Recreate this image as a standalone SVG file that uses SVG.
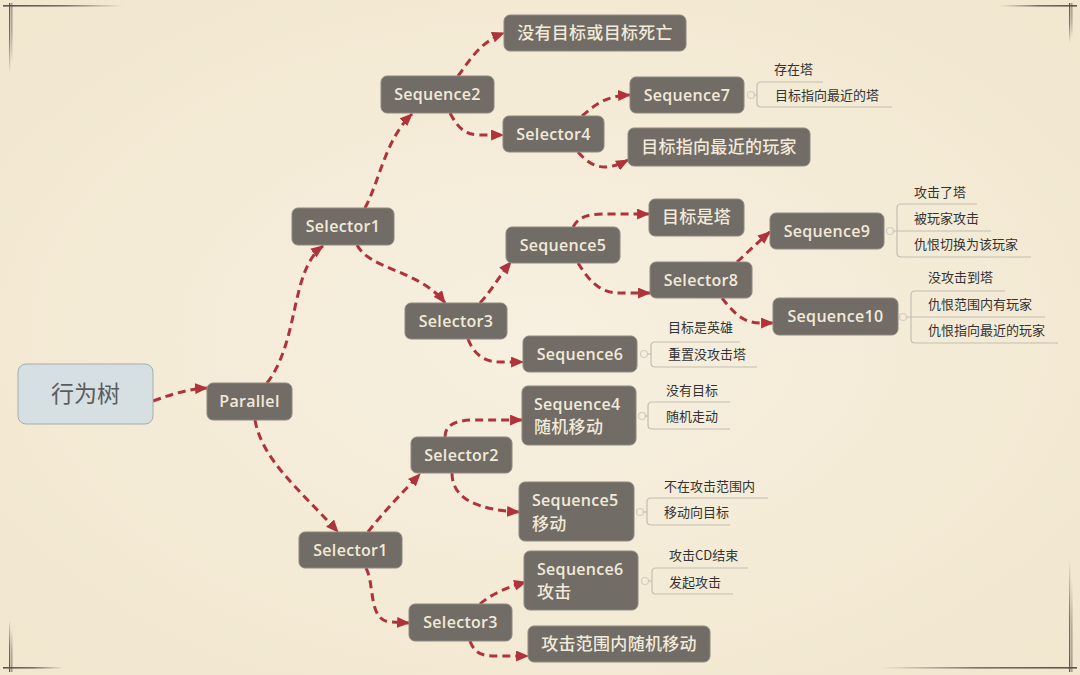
<svg xmlns="http://www.w3.org/2000/svg" width="1080" height="675" viewBox="0 0 1080 675">
  <defs>
    <radialGradient id="bg" cx="50%" cy="50%" r="75%">
      <stop offset="0" stop-color="#f7f0e0"/>
      <stop offset="1" stop-color="#f1e6cd"/>
    </radialGradient>
    <linearGradient id="fadeR" x1="0" y1="0" x2="1" y2="0">
      <stop offset="0" stop-color="#5a5450" stop-opacity="1"/>
      <stop offset="0.5" stop-color="#5a5450" stop-opacity="0.8"/>
      <stop offset="1" stop-color="#5a5450" stop-opacity="0"/>
    </linearGradient>
    <linearGradient id="fadeL" x1="1" y1="0" x2="0" y2="0">
      <stop offset="0" stop-color="#5a5450" stop-opacity="1"/>
      <stop offset="0.5" stop-color="#5a5450" stop-opacity="0.8"/>
      <stop offset="1" stop-color="#5a5450" stop-opacity="0"/>
    </linearGradient>
    <linearGradient id="fadeD" x1="0" y1="0" x2="0" y2="1">
      <stop offset="0" stop-color="#5a5450" stop-opacity="1"/>
      <stop offset="0.5" stop-color="#5a5450" stop-opacity="0.8"/>
      <stop offset="1" stop-color="#5a5450" stop-opacity="0"/>
    </linearGradient>
    <linearGradient id="fadeU" x1="0" y1="1" x2="0" y2="0">
      <stop offset="0" stop-color="#5a5450" stop-opacity="1"/>
      <stop offset="0.5" stop-color="#5a5450" stop-opacity="0.8"/>
      <stop offset="1" stop-color="#5a5450" stop-opacity="0"/>
    </linearGradient>
    <marker id="ah" viewBox="0 0 12 10" refX="11" refY="5" markerWidth="13" markerHeight="11" markerUnits="userSpaceOnUse" orient="auto">
      <path d="M0,0 L12,5 L0,10 Z" fill="#b0333b"/>
    </marker>
    <style>
      .n rect { fill: #716c66; stroke: #8e887f; stroke-width: 1; }
      .n text { fill: #f1ead9; font-family: "Open Sans", "Noto Sans CJK SC", sans-serif; font-size: 16px; font-weight: 600; text-anchor: middle; letter-spacing: 0.3px; }
      .n text.l { text-anchor: start; }
      .n text.cjk { font-size: 17px; font-weight: 500; }
      .c path { fill: none; stroke: #b0333b; stroke-width: 3; stroke-dasharray: 8 5; marker-end: url(#ah); }
      .a path, .a line { fill: none; stroke: #c4bdb1; stroke-width: 1.2; }
      .a circle { fill: none; stroke: #d2cdc4; stroke-width: 1.2; }
      .a text { fill: #333; font-family: "Noto Sans CJK SC", "Noto Sans", sans-serif; font-size: 13px; }
    </style>
  </defs>

  <rect width="1080" height="675" fill="url(#bg)"/>

  <!-- frame corners -->
  <g id="frame">
    <rect x="3" y="5" width="120" height="1.6" fill="url(#fadeR)"/>
    <rect x="9" y="3" width="1.3" height="70" fill="url(#fadeD)"/>
    <rect x="11.5" y="3" width="0.8" height="60" fill="url(#fadeD)"/>
    <rect x="1000" y="5" width="77" height="1.6" fill="url(#fadeL)"/>
    <rect x="1069" y="3" width="1.3" height="40" fill="url(#fadeD)"/>
    <rect x="1071.5" y="3" width="0.8" height="35" fill="url(#fadeD)"/>
    <rect x="3" y="667" width="60" height="1.6" fill="url(#fadeR)"/>
    <rect x="9" y="620" width="1.3" height="52" fill="url(#fadeU)"/>
    <rect x="11.5" y="630" width="0.8" height="42" fill="url(#fadeU)"/>
    <rect x="880" y="667" width="197" height="1.6" fill="url(#fadeL)"/>
    <rect x="1069" y="560" width="1.3" height="112" fill="url(#fadeU)"/>
    <rect x="1071.5" y="580" width="0.8" height="92" fill="url(#fadeU)"/>
  </g>

  <!-- connectors -->
  <g id="connectors" class="c">
    <path d="M153,401 C175,393 190,389 207,388"/>
    <path d="M267,383 C300,340 290,270 323,246"/>
    <path d="M365,208 C380,180 385,140 412,114"/>
    <path d="M458,76 C470,60 480,42 504,33"/>
    <path d="M450,113 C458,128 465,135 480,135 L503,135"/>
    <path d="M582,116 C595,105 605,96 630,95"/>
    <path d="M578,152 C592,168 605,172 628,160"/>
    <path d="M357,245 C370,270 420,270 445,303"/>
    <path d="M480,303 C492,290 500,275 511,262"/>
    <path d="M573,227 C580,215 590,214 610,214 L649,214"/>
    <path d="M578,263 C590,282 600,293 620,293 L650,293"/>
    <path d="M737,262 C748,252 758,242 770,232"/>
    <path d="M722,298 C735,315 745,323 760,323 L773,323"/>
    <path d="M468,339 C474,355 485,362 500,362 L523,362"/>
    <path d="M255,420 C262,460 300,490 338,532"/>
    <path d="M368,532 C385,510 405,490 420,474"/>
    <path d="M445,437 C445,425 455,420 475,420 L522,420"/>
    <path d="M452,473 C452,500 480,510 519,512"/>
    <path d="M366,568 C375,585 368,620 390,622 L409,623"/>
    <path d="M480,604 C490,595 505,588 526,582"/>
    <path d="M470,641 C474,652 480,656 495,656 L528,656"/>
  </g>

  <!-- root -->
  <g id="root">
    <rect x="18" y="364" width="135" height="60" rx="8" fill="#d6dfe2" stroke="#a3aeb2" stroke-width="1"/>
    <text x="85.5" y="402" fill="#5c5c5c" font-family="Noto Sans CJK SC, sans-serif" font-size="23" text-anchor="middle">行为树</text>
  </g>

  <g id="parallel" class="n"><rect x="207" y="383" width="85" height="37" rx="6"/><text x="249.5" y="407">Parallel</text></g>
  <g id="selector1a" class="n"><rect x="292" y="208" width="102" height="37" rx="6"/><text x="343" y="232">Selector1</text></g>
  <g id="sequence2" class="n"><rect x="381" y="76" width="113" height="37" rx="6"/><text x="437.5" y="100">Sequence2</text></g>
  <g id="notarget" class="n"><rect x="504" y="15" width="182" height="36" rx="6"/><text class="cjk" x="595" y="39">没有目标或目标死亡</text></g>
  <g id="selector4" class="n"><rect x="503" y="116" width="101" height="36" rx="6"/><text x="553.5" y="140">Selector4</text></g>
  <g id="sequence7" class="n"><rect x="630" y="77" width="114" height="36" rx="6"/><text x="687" y="101">Sequence7</text></g>
  <g id="nearestplayer" class="n"><rect x="628" y="128" width="182" height="38" rx="6"/><text class="cjk" x="719" y="153">目标指向最近的玩家</text></g>
  <g id="selector3a" class="n"><rect x="405" y="303" width="102" height="36" rx="6"/><text x="456" y="327">Selector3</text></g>
  <g id="sequence5a" class="n"><rect x="506" y="227" width="114" height="36" rx="6"/><text x="563" y="251">Sequence5</text></g>
  <g id="istower" class="n"><rect x="649" y="199" width="95" height="37" rx="6"/><text class="cjk" x="696.5" y="223">目标是塔</text></g>
  <g id="selector8" class="n"><rect x="650" y="262" width="102" height="36" rx="6"/><text x="701" y="286">Selector8</text></g>
  <g id="sequence9" class="n"><rect x="770" y="213" width="114" height="36" rx="6"/><text x="827" y="237">Sequence9</text></g>
  <g id="sequence10" class="n"><rect x="773" y="298" width="125" height="37" rx="6"/><text x="835.5" y="322">Sequence10</text></g>
  <g id="sequence6a" class="n"><rect x="523" y="336" width="114" height="36" rx="6"/><text x="580" y="360">Sequence6</text></g>
  <g id="selector1b" class="n"><rect x="299" y="532" width="103" height="36" rx="6"/><text x="350.5" y="556">Selector1</text></g>
  <g id="selector2" class="n"><rect x="411" y="437" width="101" height="36" rx="6"/><text x="461.5" y="461">Selector2</text></g>
  <g id="sequence4" class="n"><rect x="522" y="386" width="114" height="59" rx="6"/><text class="l" x="534" y="410">Sequence4</text><text class="l cjk" x="534" y="433">随机移动</text></g>
  <g id="sequence5b" class="n"><rect x="519" y="482" width="115" height="59" rx="6"/><text class="l" x="532" y="506">Sequence5</text><text class="l cjk" x="532" y="530">移动</text></g>
  <g id="selector3b" class="n"><rect x="409" y="604" width="103" height="37" rx="6"/><text x="460.5" y="628">Selector3</text></g>
  <g id="sequence6b" class="n"><rect x="524" y="551" width="114" height="59" rx="6"/><text class="l" x="537" y="575">Sequence6</text><text class="l cjk" x="537" y="598">攻击</text></g>
  <g id="randmove" class="n"><rect x="528" y="626" width="182" height="36" rx="6"/><text class="cjk" x="619" y="650">攻击范围内随机移动</text></g>

  <!-- annotations -->
  <g id="ann-seq7" class="a">
    <circle cx="751" cy="95" r="3.5"/>
    <line x1="754.5" y1="95" x2="757" y2="95"/>
    <path d="M823,82 L761,82 Q757,82 757,86 L757,103 Q757,107 761,107 L892,107"/>
    <text x="774" y="74">存在塔</text>
    <text x="775" y="100">目标指向最近的塔</text>
  </g>
  <g id="ann-seq9" class="a">
    <circle cx="890" cy="231" r="3.5"/>
    <path d="M977,204 L901,204 Q897,204 897,208 L897,253 Q897,257 901,257 L1031,257"/>
    <line x1="893.5" y1="231" x2="991" y2="231"/>
    <text x="914" y="197">攻击了塔</text>
    <text x="914" y="223">被玩家攻击</text>
    <text x="914" y="249">仇恨切换为该玩家</text>
  </g>
  <g id="ann-seq10" class="a">
    <circle cx="903" cy="317" r="3.5"/>
    <path d="M1005,291 L915,291 Q911,291 911,295 L911,339 Q911,343 915,343 L1058,343"/>
    <line x1="906.5" y1="317" x2="1045" y2="317"/>
    <text x="928" y="282">没攻击到塔</text>
    <text x="928" y="309">仇恨范围内有玩家</text>
    <text x="928" y="335">仇恨指向最近的玩家</text>
  </g>
  <g id="ann-seq6a" class="a">
    <circle cx="644" cy="354" r="3.5"/>
    <line x1="647.5" y1="354" x2="651" y2="354"/>
    <path d="M740,342 L655,342 Q651,342 651,346 L651,363 Q651,367 655,367 L757,367"/>
    <text x="668" y="332">目标是英雄</text>
    <text x="668" y="359">重置没攻击塔</text>
  </g>
  <g id="ann-seq4" class="a">
    <circle cx="642" cy="416" r="3.5"/>
    <line x1="645.5" y1="416" x2="648" y2="416"/>
    <path d="M730,402 L652,402 Q648,402 648,406 L648,425 Q648,429 652,429 L730,429"/>
    <text x="666" y="395">没有目标</text>
    <text x="666" y="421">随机走动</text>
  </g>
  <g id="ann-seq5b" class="a">
    <circle cx="640" cy="512" r="3.5"/>
    <line x1="643.5" y1="512" x2="647" y2="512"/>
    <path d="M768,498 L651,498 Q647,498 647,502 L647,521 Q647,525 651,525 L730,525"/>
    <text x="664" y="491">不在攻击范围内</text>
    <text x="664" y="517">移动向目标</text>
  </g>
  <g id="ann-seq6b" class="a">
    <circle cx="645" cy="581" r="3.5"/>
    <line x1="648.5" y1="581" x2="652" y2="581"/>
    <path d="M748,568 L656,568 Q652,568 652,572 L652,590 Q652,594 656,594 L733,594"/>
    <text x="669" y="560">攻击CD结束</text>
    <text x="669" y="587">发起攻击</text>
  </g>
</svg>
